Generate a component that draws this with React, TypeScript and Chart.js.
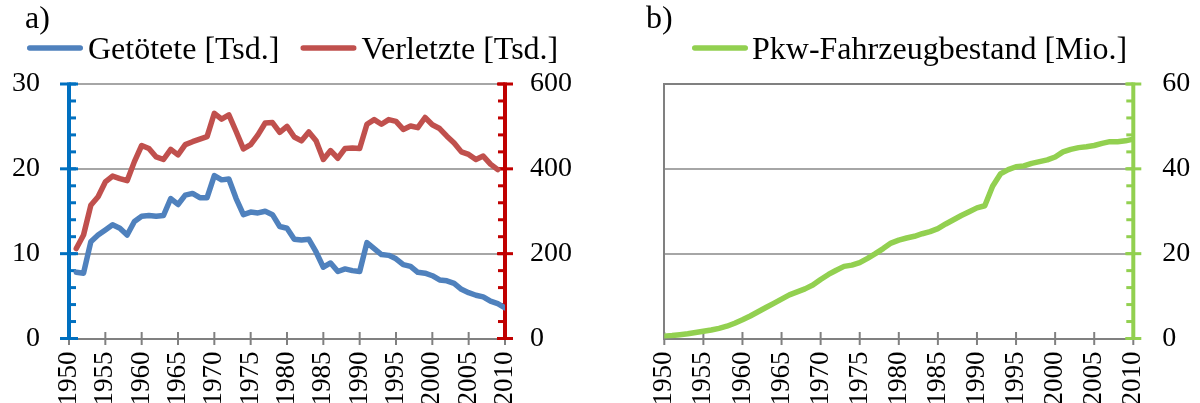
import React, { useEffect, useRef } from 'react';
import { Chart, registerables } from 'chart.js';

Chart.register(...registerables);

// ---------- data ----------
const YEARS = [
  1950, 1951, 1952, 1953, 1954, 1955, 1956, 1957, 1958, 1959,
  1960, 1961, 1962, 1963, 1964, 1965, 1966, 1967, 1968, 1969,
  1970, 1971, 1972, 1973, 1974, 1975, 1976, 1977, 1978, 1979,
  1980, 1981, 1982, 1983, 1984, 1985, 1986, 1987, 1988, 1989,
  1990, 1991, 1992, 1993, 1994, 1995, 1996, 1997, 1998, 1999,
  2000, 2001, 2002, 2003, 2004, 2005, 2006, 2007, 2008, 2009,
  2010,
];

// Getötete [Tsd.]
const KILLED = [
  null, 7.8, 7.7, 11.4, 12.2, 12.8, 13.4, 13.0, 12.2, 13.8,
  14.4, 14.5, 14.4, 14.5, 16.5, 15.8, 16.9, 17.1, 16.6, 16.6,
  19.2, 18.7, 18.8, 16.5, 14.6, 14.9, 14.8, 15.0, 14.6, 13.2,
  13.0, 11.7, 11.6, 11.7, 10.2, 8.4, 8.9, 7.9, 8.2, 8.0,
  7.9, 11.3, 10.6, 9.9, 9.8, 9.4, 8.7, 8.5, 7.8, 7.7,
  7.4, 6.9, 6.8, 6.5, 5.8, 5.4, 5.1, 4.9, 4.4, 4.1,
  3.6,
];

// Verletzte [Tsd.]
const INJURED = [
  null, 212, 244, 314, 334, 369, 383, 377, 372, 417,
  455, 448, 428, 422, 446, 433, 457, 464, 470, 476,
  531, 517, 527, 488, 447, 457, 480, 508, 509, 486,
  500, 475, 466, 487, 466, 422, 443, 425, 448, 449,
  448, 505, 516, 505, 516, 512, 493, 501, 497, 521,
  504, 495, 477, 461, 440, 434, 422, 430, 411, 398,
  null,
];

// Pkw-Fahrzeugbestand [Mio.]
const PKW = [
  0.55, 0.7, 0.9, 1.1, 1.4, 1.7, 2.0, 2.4, 2.9, 3.6,
  4.4, 5.3, 6.3, 7.3, 8.3, 9.3, 10.3, 11.0, 11.7, 12.6,
  13.9, 15.1, 16.1, 17.0, 17.3, 17.9, 18.9, 20.0, 21.2, 22.5,
  23.2, 23.7, 24.1, 24.7, 25.2, 25.9, 27.0, 28.0, 29.0, 29.9,
  30.8, 31.3, 35.9, 38.8, 39.8, 40.5, 40.7, 41.3, 41.7, 42.1,
  42.8, 44.0, 44.6, 45.0, 45.2, 45.5, 46.0, 46.4, 46.4, 46.6,
  47.0,
];

const LABEL_KILLED = 'Getötete [Tsd.]';
const LABEL_INJURED = 'Verletzte [Tsd.]';
const LABEL_PKW = 'Pkw-Fahrzeugbestand [Mio.]';

// ---------- styles ----------
const FONT = '"Liberation Serif", "Times New Roman", serif';
const BLUE = '#4F81BD';
const RED = '#C0504D';
const GREEN = '#92D050';
const AXIS_BLUE = '#0070C0';
const AXIS_RED = '#C00000';
const GRID = '#A6A6A6';
const DARK_GRID = '#808080';

const toPoints = (vals: (number | null)[]) =>
  YEARS.map((yr, i) => ({ x: yr, y: vals[i] }));

// ---------- plugins ----------
const serifLegend = {
  id: 'serifLegend',
  afterDraw(chart: any, _args: any, o: any) {
    const ctx = chart.ctx as CanvasRenderingContext2D;
    ctx.save();
    ctx.fillStyle = '#000';
    ctx.textBaseline = 'alphabetic';
    ctx.textAlign = 'left';
    ctx.font = o.titleFont;
    ctx.fillText(o.title, o.titleX, o.titleBaseline);
    ctx.font = o.font;
    let x = o.startX;
    chart.data.datasets.forEach((ds: any) => {
      ctx.strokeStyle = ds.borderColor;
      ctx.lineWidth = o.lineWidth;
      ctx.lineCap = 'round';
      ctx.beginPath();
      ctx.moveTo(x + o.lineWidth / 2, o.lineY);
      ctx.lineTo(x + o.lineLen - o.lineWidth / 2, o.lineY);
      ctx.stroke();
      const tx = x + o.lineLen + o.gap;
      ctx.fillText(ds.label, tx, o.textBaseline);
      x = tx + ctx.measureText(ds.label).width + o.spacing;
    });
    ctx.restore();
  },
};

const axisDecor = {
  id: 'axisDecor',
  beforeDatasetsDraw(chart: any, _args: any, o: any) {
    const ctx = chart.ctx as CanvasRenderingContext2D;
    const area = chart.chartArea;
    (o.axes || []).forEach((a: any) => {
      const s = chart.scales[a.id];
      if (!s) return;
      ctx.save();
      ctx.strokeStyle = a.color;
      ctx.lineCap = 'butt';
      if (a.kind === 'x') {
        ctx.lineWidth = a.tickWidth;
        s.ticks.forEach((t: any) => {
          const px = s.getPixelForValue(t.value);
          ctx.beginPath();
          ctx.moveTo(px, area.bottom - a.up);
          ctx.lineTo(px, area.bottom + a.down);
          ctx.stroke();
        });
      } else {
        const left = s.position === 'left';
        const x = left ? area.left : area.right;
        const inward = left ? 1 : -1;
        ctx.lineWidth = a.lineWidth;
        ctx.beginPath();
        ctx.moveTo(x, s.getPixelForValue(s.max) - a.tickWidth / 2);
        ctx.lineTo(x, s.getPixelForValue(s.min) + a.tickWidth / 2);
        ctx.stroke();
        ctx.lineWidth = a.tickWidth;
        for (let v = s.min; v <= s.max + 1e-9; v += a.minorStep) {
          const py = s.getPixelForValue(v);
          ctx.beginPath();
          ctx.moveTo(x, py);
          ctx.lineTo(x + inward * a.minorLen, py);
          ctx.stroke();
        }
        s.ticks.forEach((t: any) => {
          const py = s.getPixelForValue(t.value);
          ctx.beginPath();
          ctx.moveTo(x - inward * a.majorOut, py);
          ctx.lineTo(x + inward * a.majorIn, py);
          ctx.stroke();
        });
      }
      ctx.restore();
    });
  },
};

const xAxis = (height: number) => ({
  type: 'linear',
  min: 1950,
  max: 2010,
  afterFit: (s: any) => {
    s.height = height;
  },
  ticks: {
    stepSize: 5,
    autoSkip: false,
    minRotation: 90,
    maxRotation: 90,
    padding: 13,
    color: '#000',
    font: { family: FONT, size: 27 },
    callback: (v: any) => String(v),
  },
  grid: { drawOnChartArea: false, drawTicks: false },
  border: { display: true, color: DARK_GRID, width: 2 },
});

const lineDs = (label: string, data: any, color: string, axis: string) => ({
  label,
  data,
  yAxisID: axis,
  borderColor: color,
  backgroundColor: color,
  borderWidth: 5.5,
  pointRadius: 0,
  tension: 0,
  borderJoinStyle: 'round',
  borderCapStyle: 'round',
  fill: false,
});

function configA(): any {
  return {
    type: 'line',
    data: {
      datasets: [
        lineDs(LABEL_KILLED, toPoints(KILLED), BLUE, 'y'),
        lineDs(LABEL_INJURED, toPoints(INJURED), RED, 'y1'),
      ],
    },
    options: {
      animation: false,
      responsive: false,
      devicePixelRatio: 1,
      layout: { padding: { top: 84, left: 0, right: 0, bottom: 0 } },
      plugins: {
        legend: { display: false },
        tooltip: { enabled: false },
        serifLegend: {
          title: 'a)',
          titleFont: `32px ${FONT}`,
          titleX: 25,
          titleBaseline: 28,
          font: `32px ${FONT}`,
          startX: 27,
          lineLen: 56,
          lineWidth: 5.5,
          lineY: 48,
          textBaseline: 59,
          gap: 5,
          spacing: 21,
        },
        axisDecor: {
          axes: [
            { id: 'x', kind: 'x', color: DARK_GRID, tickWidth: 2, up: 6.5, down: 6.5 },
            { id: 'y', color: AXIS_BLUE, lineWidth: 4, tickWidth: 3, minorStep: 2, minorLen: 7, majorOut: 9, majorIn: 9 },
            { id: 'y1', color: AXIS_RED, lineWidth: 4, tickWidth: 3, minorStep: 40, minorLen: 7, majorOut: 8, majorIn: 8 },
          ],
        },
      },
      scales: {
        x: xAxis(64.5),
        y: {
          position: 'left',
          min: 0,
          max: 30,
          afterFit: (s: any) => {
            s.width = 69;
          },
          ticks: { stepSize: 10, padding: 29, color: '#000', font: { family: FONT, size: 28 } },
          grid: { color: GRID, lineWidth: 2, drawTicks: false },
          border: { display: false },
        },
        y1: {
          position: 'right',
          min: 0,
          max: 600,
          afterFit: (s: any) => {
            s.width = 95;
          },
          ticks: { stepSize: 200, padding: 25, color: '#000', font: { family: FONT, size: 28 } },
          grid: { drawOnChartArea: false, drawTicks: false },
          border: { display: false },
        },
      },
    },
    plugins: [serifLegend, axisDecor],
  };
}

function configB(): any {
  return {
    type: 'line',
    data: {
      datasets: [lineDs(LABEL_PKW, toPoints(PKW), GREEN, 'y')],
    },
    options: {
      animation: false,
      responsive: false,
      devicePixelRatio: 1,
      layout: { padding: { top: 84, left: 0, right: 0, bottom: 0 } },
      plugins: {
        legend: { display: false },
        tooltip: { enabled: false },
        serifLegend: {
          title: 'b)',
          titleFont: `32px ${FONT}`,
          titleX: 46,
          titleBaseline: 28,
          font: `32px ${FONT}`,
          startX: 92,
          lineLen: 56,
          lineWidth: 5.5,
          lineY: 48,
          textBaseline: 59,
          gap: 4,
          spacing: 19,
        },
        axisDecor: {
          axes: [
            { id: 'x', kind: 'x', color: DARK_GRID, tickWidth: 2, up: 6.5, down: 6.5 },
            { id: 'y', color: GREEN, lineWidth: 4, tickWidth: 3, minorStep: 4, minorLen: 7, majorOut: 8, majorIn: 8 },
          ],
        },
      },
      scales: {
        x: xAxis(64.5),
        yL: {
          position: 'left',
          min: 0,
          max: 60,
          afterFit: (s: any) => {
            s.width = 64.3;
          },
          ticks: { stepSize: 20, display: false },
          grid: {
            color: (c: any) => (c.tick && c.tick.value === 60 ? DARK_GRID : GRID),
            lineWidth: 2,
            drawTicks: false,
          },
          border: { display: true, color: DARK_GRID, width: 2 },
        },
        y: {
          position: 'right',
          min: 0,
          max: 60,
          afterFit: (s: any) => {
            s.width = 66.7;
          },
          ticks: { stepSize: 20, padding: 29, color: '#000', font: { family: FONT, size: 28 } },
          grid: { drawOnChartArea: false, drawTicks: false },
          border: { display: false },
        },
      },
    },
    plugins: [serifLegend, axisDecor],
  };
}

function ChartCanvas({ make, left }: { make: () => any; left: number }) {
  const ref = useRef<HTMLCanvasElement>(null);
  useEffect(() => {
    const chart = new Chart(ref.current as HTMLCanvasElement, make());
    return () => chart.destroy();
  }, [make]);
  return (
    <canvas
      ref={ref}
      width={600}
      height={403}
      style={{ position: 'absolute', left, top: 0, width: 600, height: 403 }}
    />
  );
}

export default function App() {
  return (
    <div
      style={{
        position: 'fixed',
        left: 0,
        top: 0,
        width: 1200,
        height: 403,
        background: '#fff',
        overflow: 'hidden',
      }}
    >
      <ChartCanvas make={configA} left={0} />
      <ChartCanvas make={configB} left={600} />
    </div>
  );
}
